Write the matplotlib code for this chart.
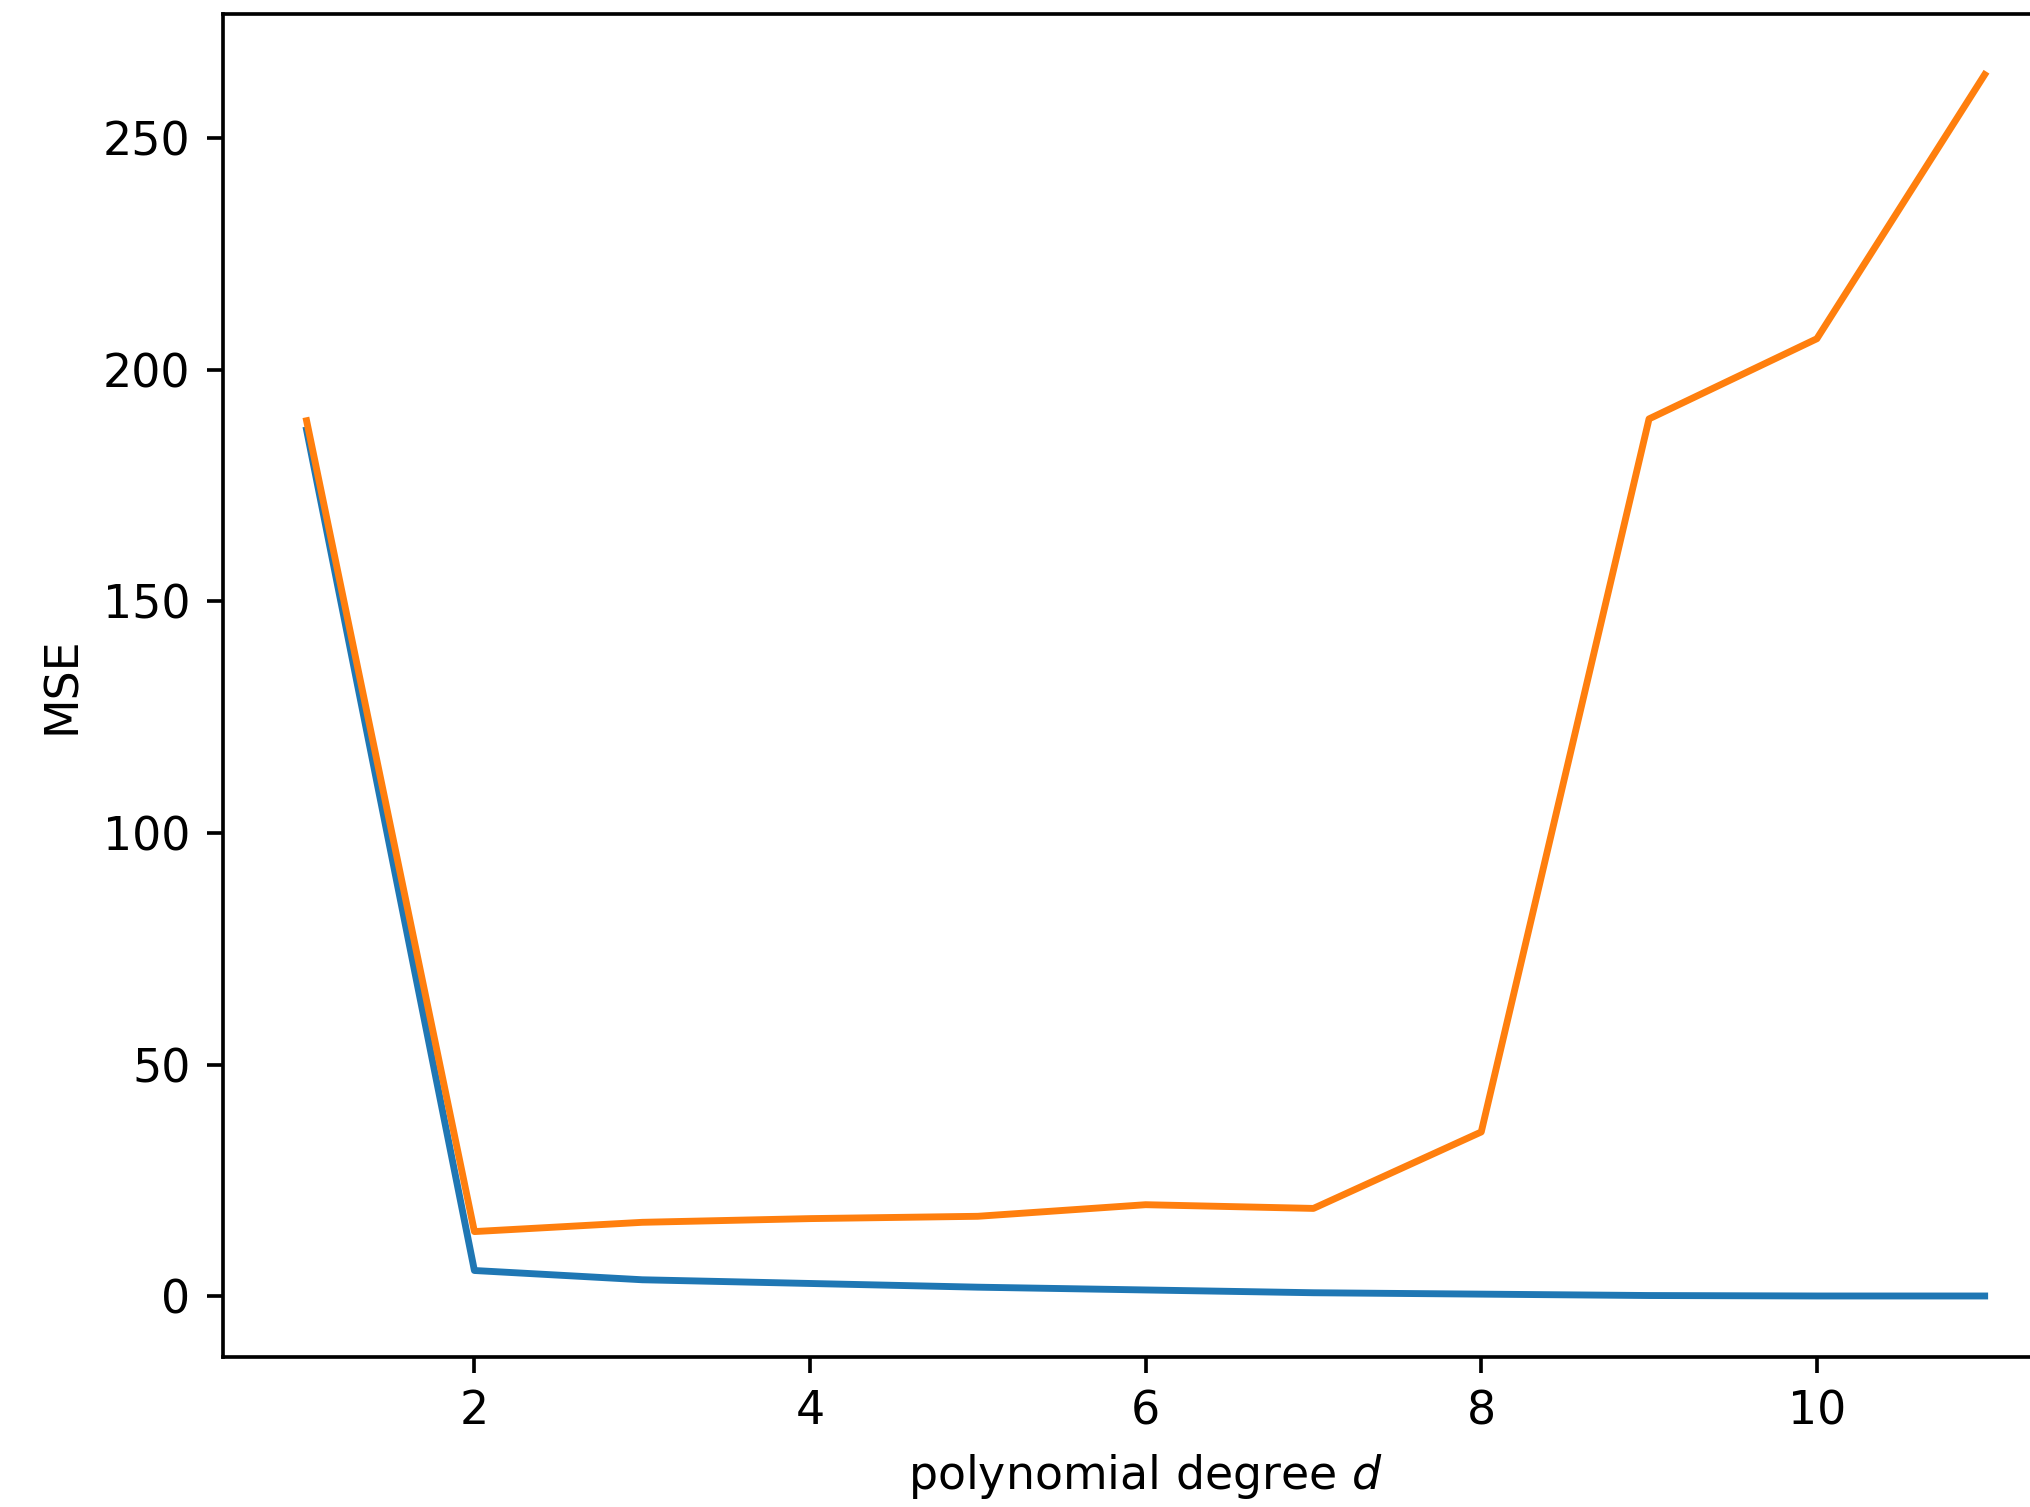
import numpy as np
import matplotlib
matplotlib.use("Agg")
import matplotlib.pyplot as plt

# training / test error against polynomial degree
degrees = np.arange(1, 12)
train_mse = [187.0, 5.6, 3.6, 2.8, 2.0, 1.4, 0.8, 0.5, 0.2, 0.1, 0.1]
test_mse = [189.0, 14.0, 16.0, 16.8, 17.3, 19.8, 19.0, 35.5, 189.4, 206.7, 263.7]

dpi = 330
fig = plt.figure(figsize=(2030 / dpi, 1507 / dpi), dpi=dpi)
ax = fig.add_axes([0.1097, 0.0995, 0.9093, 0.8915])

ax.plot(degrees, train_mse)
ax.plot(degrees, test_mse)
ax.set_xlabel("polynomial degree $d$")
ax.set_ylabel("MSE")

fig.savefig("out.png", dpi=dpi)
